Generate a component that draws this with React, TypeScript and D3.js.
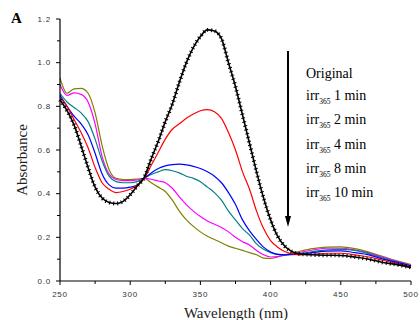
import * as d3 from "d3";

// Wavelength grid (nm) shared by all spectra
const wavelengths = [
  250, 255, 260, 265, 270, 275, 280, 285, 290, 295, 300, 305, 310, 315, 320, 325, 330, 335, 340, 345, 350,
  355, 360, 365, 370, 375, 380, 385, 390, 395, 400, 405, 410, 420, 430, 440, 450, 460, 470, 480, 490, 500,
];

const original = [
  0.83, 0.78, 0.715, 0.62, 0.52, 0.43, 0.38, 0.36, 0.355, 0.365, 0.395, 0.435, 0.475, 0.56, 0.64, 0.73, 0.81,
  0.91, 1.0, 1.07, 1.12, 1.15, 1.145, 1.11, 1.0, 0.89, 0.76, 0.63, 0.5, 0.38, 0.28, 0.205, 0.16, 0.125, 0.12,
  0.118, 0.117, 0.11, 0.1, 0.085, 0.075, 0.062,
];
const irr1 = [
  0.84, 0.8, 0.74, 0.68, 0.61, 0.52, 0.45, 0.42, 0.405, 0.41, 0.42, 0.44, 0.47, 0.53, 0.59, 0.65, 0.695, 0.72,
  0.745, 0.765, 0.78, 0.785, 0.775, 0.745, 0.68, 0.6, 0.5, 0.42, 0.32, 0.24, 0.185, 0.155, 0.135, 0.12, 0.122,
  0.127, 0.127, 0.12, 0.11, 0.095, 0.08, 0.065,
];
const irr2 = [
  0.85, 0.8, 0.755, 0.72, 0.67, 0.585, 0.49, 0.44, 0.425, 0.425, 0.43, 0.44, 0.47, 0.495, 0.515, 0.527, 0.533,
  0.535, 0.532, 0.525, 0.515, 0.5, 0.48, 0.45, 0.405, 0.35, 0.28, 0.23, 0.19, 0.155, 0.133, 0.122, 0.12, 0.122,
  0.13, 0.137, 0.138, 0.13, 0.12, 0.1, 0.085, 0.068,
];
const irr4 = [
  0.86, 0.82, 0.795, 0.77, 0.73, 0.65, 0.55, 0.48, 0.455, 0.45, 0.45, 0.455, 0.47, 0.488, 0.5, 0.51, 0.505,
  0.495, 0.48, 0.47, 0.455, 0.43, 0.405, 0.37, 0.32, 0.28, 0.24, 0.21, 0.17, 0.145, 0.13, 0.122, 0.12, 0.125,
  0.135, 0.143, 0.145, 0.14, 0.125, 0.105, 0.088, 0.07,
];
const irr8 = [
  0.9, 0.85, 0.862, 0.855, 0.82, 0.72, 0.57, 0.49, 0.465, 0.46, 0.46, 0.463, 0.47, 0.466, 0.458, 0.45, 0.425,
  0.385, 0.35, 0.32, 0.295, 0.275, 0.26, 0.245, 0.225, 0.2, 0.18, 0.165, 0.14, 0.12, 0.11, 0.112, 0.118, 0.13,
  0.142, 0.15, 0.15, 0.142, 0.128, 0.108, 0.09, 0.072,
];
const irr10 = [
  0.93, 0.86, 0.88, 0.882, 0.86, 0.77, 0.62, 0.51, 0.47, 0.465, 0.465, 0.467, 0.47, 0.45, 0.43, 0.41, 0.37,
  0.32, 0.28, 0.25, 0.225, 0.205, 0.19, 0.175, 0.16, 0.15, 0.14, 0.13, 0.12, 0.105, 0.103, 0.11, 0.12, 0.135,
  0.148, 0.155, 0.156, 0.148, 0.132, 0.112, 0.092, 0.075,
];

const seriesValues = [original, irr1, irr2, irr4, irr8, irr10];
const seriesColors = ["#000000", "#ff0000", "#0000ff", "#008080", "#ff00ff", "#808000"];
const legendMinutes = ["1", "2", "4", "8", "10"];

const xTicks = [250, 300, 350, 400, 450, 500];
const xMinorTicks = [275, 325, 375, 425, 475];
const yTicks = [0, 0.2, 0.4, 0.6, 0.8, 1.0, 1.2];
const yMinorTicks = [0.1, 0.3, 0.5, 0.7, 0.9, 1.1];

const serif = "Liberation Serif";
const sans = "Liberation Sans";

export default function App() {
  const margin = { left: 60, right: 9, top: 19, bottom: 39 };
  const width = 420;
  const height = 320;

  const x = d3.scaleLinear().domain([250, 500]).range([margin.left, width - margin.right]);
  const y = d3.scaleLinear().domain([0, 1.2]).range([height - margin.bottom, margin.top]);

  const line = d3
    .line<number>()
    .x((_, i) => x(wavelengths[i]))
    .y((d) => y(d))
    .curve(d3.curveMonotoneX);

  const x0 = x.range()[0];
  const y0 = y.range()[0];

  const arrowX = 288;
  const arrowTop = 51;
  const arrowTip = 227;

  return (
    <svg
      width={width}
      height={height}
      style={{ position: "absolute", left: 0, top: 0, background: "#fff" }}
    >
      <text x={11} y={23} fontFamily={serif} fontWeight="bold" fontSize={15}>
        A
      </text>

      {/* spectra, drawn last-first so the original sits on top */}
      {seriesValues
        .map((vals, i) => ({ vals, i }))
        .reverse()
        .map(({ vals, i }) => (
          <path
            key={i}
            d={line(vals) ?? ""}
            fill="none"
            stroke={seriesColors[i]}
            strokeWidth={i === 0 ? 1.6 : 1.2}
          />
        ))}
      {/* cross markers on the original spectrum */}
      <path
        d={line(original) ?? ""}
        fill="none"
        stroke="#000"
        strokeWidth={4}
        strokeDasharray="1 3"
      />

      {/* y axis */}
      <line x1={x0} x2={x0} y1={y0} y2={y(1.2)} stroke="#000" strokeWidth={1.2} />
      {yTicks.map((t) => (
        <g key={t}>
          <line x1={x0 - 4} x2={x0} y1={y(t)} y2={y(t)} stroke="#000" />
          <text
            x={x0 - 9}
            y={y(t)}
            dy="0.35em"
            textAnchor="end"
            fontFamily={sans}
            fontSize={8}
            letterSpacing={0.8}
            fill="#333"
          >
            {t.toFixed(1)}
          </text>
        </g>
      ))}
      {yMinorTicks.map((t) => (
        <line key={t} x1={x0 - 3} x2={x0} y1={y(t)} y2={y(t)} stroke="#000" />
      ))}

      {/* x axis */}
      <line x1={x0} x2={x.range()[1]} y1={y0} y2={y0} stroke="#000" strokeWidth={1.2} />
      {xTicks.map((t) => (
        <g key={t}>
          <line x1={x(t)} x2={x(t)} y1={y0} y2={y0 + 4} stroke="#000" />
          <text
            x={x(t)}
            y={y0 + 16}
            textAnchor="middle"
            fontFamily={sans}
            fontSize={8}
            letterSpacing={0.8}
            fill="#333"
          >
            {t}
          </text>
        </g>
      ))}
      {xMinorTicks.map((t) => (
        <line key={t} x1={x(t)} x2={x(t)} y1={y0} y2={y0 + 3} stroke="#000" />
      ))}

      <text
        transform={`translate(27,${(y0 + y(1.2)) / 2 + 10}) rotate(-90)`}
        textAnchor="middle"
        fontFamily={serif}
        fontSize={15}
        fill="#222"
      >
        Absorbance
      </text>
      <text x={236} y={318} textAnchor="middle" fontFamily={serif} fontSize={15} fill="#222">
        Wavelength (nm)
      </text>

      {/* arrow */}
      <line x1={arrowX} x2={arrowX} y1={arrowTop} y2={arrowTip - 8} stroke="#000" strokeWidth={2} />
      <path
        d={`M${arrowX - 3},${arrowTip - 11} L${arrowX + 3},${arrowTip - 11} L${arrowX},${arrowTip} Z`}
        fill="#000"
      />

      {/* legend text */}
      <g fontFamily={serif} fontSize={14} fill="#000">
        <text x={306} y={78}>
          Original
        </text>
        {legendMinutes.map((m, i) => (
          <text key={m} x={306} y={100 + i * 24.25}>
            irr
            <tspan fontSize={7.5} dy={4}>
              365
            </tspan>
            <tspan dy={-4}> {m} min</tspan>
          </text>
        ))}
      </g>
    </svg>
  );
}
